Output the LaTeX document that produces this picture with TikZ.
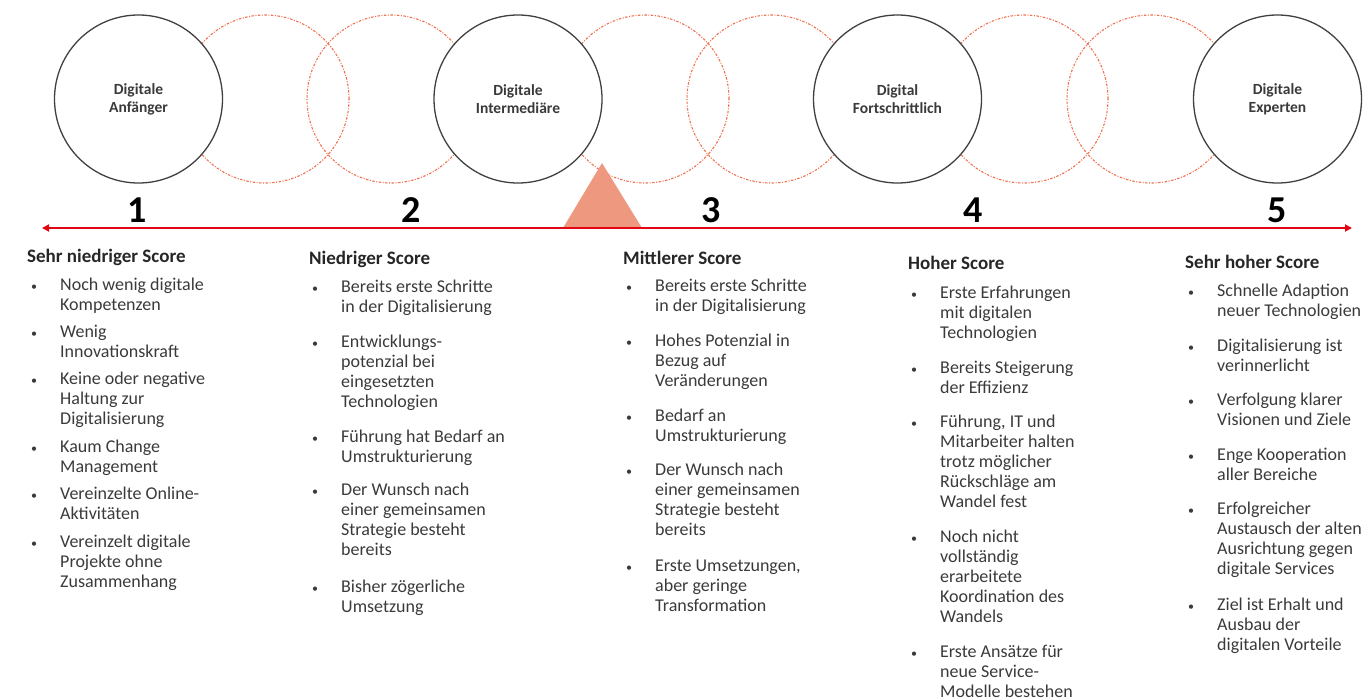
\documentclass[tikz,border=0pt]{standalone}
\usepackage{fontspec}
\setmainfont{Carlito}
\usetikzlibrary{arrows.meta}
\definecolor{arrowred}{HTML}{E30613}
\definecolor{dashred}{HTML}{F0704F}
\definecolor{triang}{HTML}{EF9880}
\definecolor{txt}{HTML}{3A3A3A}
\definecolor{ringgray}{HTML}{404040}
\newcommand\mylines[1]{\begin{tabular}[t]{@{}l@{}}#1\end{tabular}}
\newcommand\bitem[4]{\node[bul] (#3b) at (#1-29,#2) {•};\node[itm] (#3) at (#1,#2) {\mylines{#4}};}
\begin{document}
\begin{tikzpicture}[x=1pt,y=-1pt,
  ring/.style={circle, draw=ringgray, line width=1.3pt, fill=white, minimum size=168pt, inner sep=0pt,
    font=\fontsize{15.5}{18}\selectfont\bfseries, text=txt, align=center},
  dring/.style={circle, draw=dashred, line width=1.1pt, dash pattern=on 2.5pt off 1.5pt on 1pt off 1.5pt,
    minimum size=168pt, inner sep=0pt},
  num/.style={font=\fontsize{38}{38}\selectfont\bfseries, inner sep=0pt, anchor=base, text=black},
  head/.style={font=\fontsize{19}{20}\selectfont\bfseries, anchor=base west, inner sep=0pt, text=black!85},
  itm/.style={font=\fontsize{18}{20}\selectfont, anchor=base west, inner sep=0pt, text=txt},
  bul/.style={font=\fontsize{12}{12}\selectfont, anchor=base west, inner sep=0pt, text=txt}]
\useasboundingbox (0,0) rectangle (1367,697);
% dashed rings
\node[dring] (d1) at (265,99) {};
\node[dring] (d2) at (391,99) {};
\node[dring] (d3) at (645,99) {};
\node[dring] (d4) at (771,99) {};
\node[dring] (d5) at (1024,99) {};
\node[dring] (d6) at (1151,99) {};
% main rings
\node[ring] (c1) at (138.5,99) {Digitale\\Anfänger};
\node[ring] (c2) at (518,99) {Digitale\\Intermediäre};
\node[ring] (c3) at (897.5,99) {Digital\\Fortschrittlich};
\node[ring] (c4) at (1277.5,99) {Digitale\\Experten};
% marker triangle
\fill[triang] (563,228) -- (602,163) -- (642,228) -- cycle;
% arrow
\coordinate (aL) at (42,228);
\coordinate (aR) at (1352,228);
\draw[arrowred, line width=2.5pt, {Triangle[length=7pt,width=7pt]}-{Triangle[length=7pt,width=7pt]}] (aL) -- (aR);
% numbers
\node[num] (n1) at (137,222) {1};
\node[num] (n2) at (411,222) {2};
\node[num] (n3) at (711,222) {3};
\node[num] (n4) at (973,222) {4};
\node[num] (n5) at (1277,222) {5};
% column 1
\node[head] (h1) at (27,262) {Sehr niedriger Score};
\bitem{60}{290}{a1}{Noch wenig digitale\\Kompetenzen}
\bitem{60}{337}{a2}{Wenig\\Innovationskraft}
\bitem{60}{384}{a3}{Keine oder negative\\Haltung zur\\Digitalisierung}
\bitem{60}{452}{a4}{Kaum Change\\Management}
\bitem{60}{499}{a5}{Vereinzelte Online-\\Aktivitäten}
\bitem{60}{547}{a6}{Vereinzelt digitale\\Projekte ohne\\Zusammenhang}
% column 2
\node[head] (h2) at (309,264) {Niedriger Score};
\bitem{341}{292}{b1}{Bereits erste Schritte\\in der Digitalisierung}
\bitem{341}{347}{b2}{Entwicklungs-\\potenzial bei\\eingesetzten\\Technologien}
\bitem{341}{442}{b3}{Führung hat Bedarf an\\Umstrukturierung}
\bitem{341}{495}{b4}{Der Wunsch nach\\einer gemeinsamen\\Strategie besteht\\bereits}
\bitem{341}{592}{b5}{Bisher zögerliche\\Umsetzung}
% column 3
\node[head] (h3) at (623,264) {Mittlerer Score};
\bitem{655}{291}{m1}{Bereits erste Schritte\\in der Digitalisierung}
\bitem{655}{346}{m2}{Hohes Potenzial in\\Bezug auf\\Veränderungen}
\bitem{655}{421}{m3}{Bedarf an\\Umstrukturierung}
\bitem{655}{475}{m4}{Der Wunsch nach\\einer gemeinsamen\\Strategie besteht\\bereits}
\bitem{655}{571}{m5}{Erste Umsetzungen,\\aber geringe\\Transformation}
% column 4
\node[head] (h4) at (908,269) {Hoher Score};
\bitem{940}{298}{o1}{Erste Erfahrungen\\mit digitalen\\Technologien}
\bitem{940}{373}{o2}{Bereits Steigerung\\der Effizienz}
\bitem{940}{427}{o3}{Führung, IT und\\Mitarbeiter halten\\trotz möglicher\\Rückschläge am\\Wandel fest}
\bitem{940}{542}{o4}{Noch nicht\\vollständig\\erarbeitete\\Koordination des\\Wandels}
\bitem{940}{657}{o5}{Erste Ansätze für\\neue Service-\\Modelle bestehen}
% column 5
\node[head] (h5) at (1185,268) {Sehr hoher Score};
\bitem{1217}{296}{s1}{Schnelle Adaption\\neuer Technologien}
\bitem{1217}{351}{s2}{Digitalisierung ist\\verinnerlicht}
\bitem{1217}{405}{s3}{Verfolgung klarer\\Visionen und Ziele}
\bitem{1217}{460}{s4}{Enge Kooperation\\aller Bereiche}
\bitem{1217}{514}{s5}{Erfolgreicher\\Austausch der alten\\Ausrichtung gegen\\digitale Services}
\bitem{1217}{610}{s6}{Ziel ist Erhalt und\\Ausbau der\\digitalen Vorteile}
\end{tikzpicture}
\end{document}
